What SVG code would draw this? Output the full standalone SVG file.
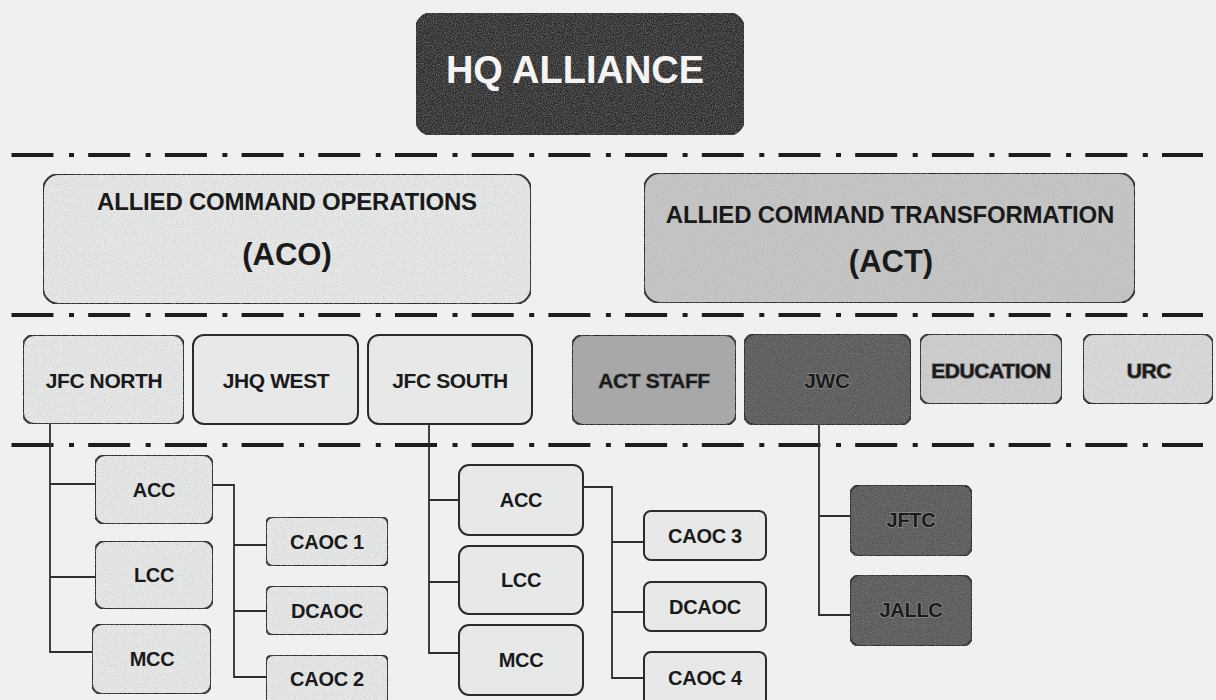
<svg xmlns="http://www.w3.org/2000/svg" width="1216" height="700" viewBox="0 0 1216 700">
<defs>
<style>
.bg{fill:#eff0f0}
.box{stroke:#2b2b2b;stroke-width:2}
.l1{fill:#e7e8e8}
.actf{fill:#c6c6c6}
.staff{fill:#a9a9a9}
.dark{fill:#5a5a5a}
.edu{fill:#cfcfcf}
.urc{fill:#dbdbdb}
.hq{fill:#2e2e2e}
.t{font-family:"Liberation Sans",Arial,sans-serif;font-weight:bold;fill:#1a1a1a;text-anchor:middle}
.t21{font-size:21px;letter-spacing:-0.4px}
.t20{font-size:20px;letter-spacing:-0.3px}
.halo{stroke:#8a8a8a;stroke-width:1.6px;paint-order:stroke}
.sep{stroke:#1c1c1c;stroke-width:4;stroke-dasharray:42 15.5 5 14.2;fill:none}
.con{stroke:#2e2e2e;stroke-width:1.8;fill:none}
</style>
<filter id="grain" x="0" y="0" width="100%" height="100%">
<feTurbulence type="fractalNoise" baseFrequency="0.9" numOctaves="1" seed="3" result="n"/>
<feColorMatrix in="n" type="matrix" values="0 0 0 0 0.35  0 0 0 0 0.35  0 0 0 0 0.35  0 0 0 0.9 -0.38" result="d"/>
<feComposite in="d" in2="SourceGraphic" operator="in" result="dm"/>
<feMerge><feMergeNode in="SourceGraphic"/><feMergeNode in="dm"/></feMerge>
</filter>
</defs>
<rect class="bg" x="0" y="0" width="1216" height="700"/>

<g id="separators">
<line class="sep" x1="11.5" y1="155" x2="1203" y2="155"/>
<line class="sep" x1="11.5" y1="315" x2="1203" y2="315"/>
<line class="sep" x1="11.5" y1="445" x2="1203" y2="445"/>
</g>

<g id="connectors">
<path class="con" d="M50 424 V652 H92 M50 484 H95 M50 577 H95"/>
<path class="con" d="M213 485 H234 V677 H266 M234 545 H266 M234 611 H266"/>
<path class="con" d="M429 424 V653 H459 M429 500 H459 M429 582 H459"/>
<path class="con" d="M583 487 H612 V678 H644 M612 542 H644 M612 612 H644"/>
<path class="con" d="M819 425 V615 H850 M819 516 H850"/>
</g>

<g id="hq">
<rect class="box hq" filter="url(#grain)" x="416" y="13" width="328" height="122" rx="16"/>
<text class="t" x="575" y="83" style="font-size:38px;fill:#f4f4f4">HQ ALLIANCE</text>
</g>

<g id="aco">
<rect class="box l1" filter="url(#grain)" x="43" y="174" width="488" height="130" rx="16"/>
<text class="t" x="287" y="210" style="font-size:24px;letter-spacing:-0.2px">ALLIED COMMAND OPERATIONS</text>
<text class="t" x="287" y="265" style="font-size:31px">(ACO)</text>
</g>

<g id="act">
<rect class="box actf" filter="url(#grain)" x="644" y="173" width="491" height="130" rx="16"/>
<text class="t" x="890" y="223" style="font-size:24px;letter-spacing:-0.2px">ALLIED COMMAND TRANSFORMATION</text>
<text class="t" x="891" y="272" style="font-size:31px">(ACT)</text>
</g>

<g id="jfc-north">
<rect class="box l1" filter="url(#grain)" x="23" y="335" width="161" height="89" rx="11"/>
<text class="t t21" x="104" y="388">JFC NORTH</text>
</g>
<g id="jhq-west">
<rect class="box l1" x="193" y="335" width="165" height="89" rx="11"/>
<text class="t t21" x="276" y="388">JHQ WEST</text>
</g>
<g id="jfc-south">
<rect class="box l1" x="368" y="335" width="164" height="89" rx="11"/>
<text class="t t21" x="450" y="388">JFC SOUTH</text>
</g>
<g id="act-staff">
<rect class="box staff" filter="url(#grain)" x="572" y="335" width="164" height="90" rx="11"/>
<text class="t t21 halo" x="654" y="388">ACT STAFF</text>
</g>
<g id="jwc">
<rect class="box dark" filter="url(#grain)" x="744" y="334" width="167" height="91" rx="11"/>
<text class="t t21 halo" x="827" y="388">JWC</text>
</g>
<g id="education">
<rect class="box edu" filter="url(#grain)" x="920" y="334" width="142" height="70" rx="10"/>
<text class="t t21 halo" x="991" y="378">EDUCATION</text>
</g>
<g id="urc">
<rect class="box urc" filter="url(#grain)" x="1083" y="334" width="130" height="70" rx="10"/>
<text class="t t21 halo" x="1149" y="378">URC</text>
</g>

<g id="acc-north">
<rect class="box l1" filter="url(#grain)" x="95" y="455" width="118" height="69" rx="10"/>
<text class="t t20" x="154" y="497">ACC</text>
</g>
<g id="lcc-north">
<rect class="box l1" filter="url(#grain)" x="95" y="541" width="118" height="68" rx="10"/>
<text class="t t20" x="154" y="582">LCC</text>
</g>
<g id="mcc-north">
<rect class="box l1" filter="url(#grain)" x="92" y="624" width="119" height="70" rx="10"/>
<text class="t t20" x="152" y="666">MCC</text>
</g>
<g id="caoc1">
<rect class="box l1" filter="url(#grain)" x="266" y="517" width="122" height="49" rx="7"/>
<text class="t t20" x="327" y="549">CAOC 1</text>
</g>
<g id="dcaoc-north">
<rect class="box l1" filter="url(#grain)" x="266" y="586" width="122" height="49" rx="7"/>
<text class="t t20" x="327" y="618">DCAOC</text>
</g>
<g id="caoc2">
<rect class="box l1" filter="url(#grain)" x="266" y="655" width="122" height="54" rx="7"/>
<text class="t t20" x="327" y="686">CAOC 2</text>
</g>

<g id="acc-south">
<rect class="box l1" x="459" y="465" width="124" height="70" rx="10"/>
<text class="t t20" x="521" y="507">ACC</text>
</g>
<g id="lcc-south">
<rect class="box l1" x="459" y="546" width="124" height="68" rx="10"/>
<text class="t t20" x="521" y="587">LCC</text>
</g>
<g id="mcc-south">
<rect class="box l1" x="459" y="625" width="124" height="70" rx="10"/>
<text class="t t20" x="521" y="667">MCC</text>
</g>
<g id="caoc3">
<rect class="box l1" x="644" y="511" width="122" height="49" rx="7"/>
<text class="t t20" x="705" y="543">CAOC 3</text>
</g>
<g id="dcaoc-south">
<rect class="box l1" x="644" y="582" width="122" height="49" rx="7"/>
<text class="t t20" x="705" y="614">DCAOC</text>
</g>
<g id="caoc4">
<rect class="box l1" x="644" y="652" width="122" height="54" rx="7"/>
<text class="t t20" x="705" y="685">CAOC 4</text>
</g>

<g id="jftc">
<rect class="box dark" filter="url(#grain)" x="850" y="485" width="122" height="71" rx="10"/>
<text class="t t20 halo" x="911" y="527">JFTC</text>
</g>
<g id="jallc">
<rect class="box dark" filter="url(#grain)" x="850" y="575" width="122" height="71" rx="10"/>
<text class="t t20 halo" x="911" y="617">JALLC</text>
</g>
</svg>
